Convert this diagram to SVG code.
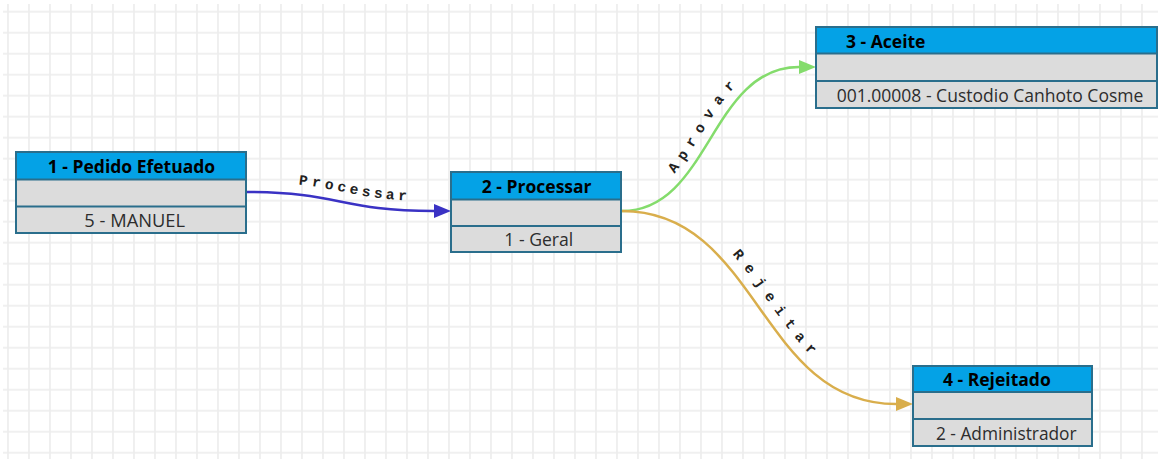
<svg xmlns="http://www.w3.org/2000/svg" width="1158" height="459" viewBox="0 0 1158 459">
<defs>
<pattern id="grid" x="7" y="10.7" width="21" height="21" patternUnits="userSpaceOnUse">
<path d="M1 0V21M0 1H21" stroke="#ececec" stroke-width="1.6" fill="none"/>
</pattern>
<marker id="arrBlue" markerUnits="userSpaceOnUse" markerWidth="18" markerHeight="14" refX="0" refY="7" orient="auto"><path d="M0 0L17 7L0 14z" fill="#3a32c4"/></marker>
<marker id="arrGreen" markerUnits="userSpaceOnUse" markerWidth="18" markerHeight="14" refX="0" refY="7" orient="auto"><path d="M0 0L17 7L0 14z" fill="#84dc6c"/></marker>
<marker id="arrGold" markerUnits="userSpaceOnUse" markerWidth="18" markerHeight="14" refX="0" refY="7" orient="auto"><path d="M0 0L17 7L0 14z" fill="#d9ae4c"/></marker>
<style>
.body{fill:#dcdcdc;stroke:#2a6e8c;stroke-width:2}
.head{fill:#04a2e6;stroke:#2a6e8c;stroke-width:2}
.sep{stroke:#2a6e8c;stroke-width:2}
.ht{font-family:"Open Sans","DejaVu Sans",sans-serif;font-weight:bold;font-size:17.5px;fill:#000}
.bt{font-family:"Open Sans","DejaVu Sans",sans-serif;font-size:17.5px;fill:#2d2d2d}
.conn{fill:none;stroke-width:2.5}
.lbl{font-family:"Liberation Mono","Courier New",monospace;font-weight:bold;font-size:14.5px;fill:#222}
</style>
</defs>
<rect x="0" y="0" width="1158" height="459" fill="#ffffff"/>
<rect x="3" y="4" width="1155" height="455" fill="url(#grid)"/>

<g id="connectors">
<path id="c1" class="conn" stroke="#3a32c4" d="M247 192C340 192 340 211 434 211" marker-end="url(#arrBlue)"/>
<path id="c2" class="conn" stroke="#84dc6c" d="M622 211C710 211 710 67 799 67" marker-end="url(#arrGreen)"/>
<path id="c3" class="conn" stroke="#d9ae4c" d="M622 211C759 211 759 404 896 404" marker-end="url(#arrGold)"/>
<text class="lbl" letter-spacing="4" dy="-10"><textPath href="#c1" startOffset="57%" text-anchor="middle">Processar</textPath></text>
<text class="lbl" letter-spacing="7.5" dy="-10"><textPath href="#c2" startOffset="53%" text-anchor="middle">Aprovar</textPath></text>
<text class="lbl" letter-spacing="8.5" dy="-11"><textPath href="#c3" startOffset="53%" text-anchor="middle">Rejeitar</textPath></text>
</g>

<g id="node1">
<rect class="body" x="16" y="152" width="230" height="81"/>
<rect class="head" x="16" y="152" width="230" height="27.5"/>
<line class="sep" x1="16" y1="206.5" x2="246" y2="206.5"/>
<text class="ht" x="131.5" y="173.3" text-anchor="middle">1 - Pedido Efetuado</text>
<text class="bt" x="134.7" y="227.3" text-anchor="middle" textLength="100.7" lengthAdjust="spacingAndGlyphs">5 - MANUEL</text>
</g>

<g id="node2">
<rect class="body" x="451" y="172" width="170" height="80"/>
<rect class="head" x="451" y="172" width="170" height="27.5"/>
<line class="sep" x1="451" y1="226" x2="621" y2="226"/>
<text class="ht" x="536.7" y="193.3" text-anchor="middle">2 - Processar</text>
<text class="bt" x="538.8" y="246" text-anchor="middle" textLength="69" lengthAdjust="spacingAndGlyphs">1 - Geral</text>
</g>

<g id="node3">
<rect class="body" x="816" y="27" width="341" height="81"/>
<rect class="head" x="816" y="27" width="341" height="26.5"/>
<line class="sep" x1="816" y1="81" x2="1157" y2="81"/>
<text class="ht" x="846" y="48.3">3 - Aceite</text>
<text class="bt" x="990" y="101.7" text-anchor="middle" textLength="306.7" lengthAdjust="spacingAndGlyphs">001.00008 - Custodio Canhoto Cosme</text>
</g>

<g id="node4">
<rect class="body" x="913" y="366" width="179" height="80"/>
<rect class="head" x="913" y="366" width="179" height="26"/>
<line class="sep" x1="913" y1="419" x2="1092" y2="419"/>
<text class="ht" x="943" y="385.7">4 - Rejeitado</text>
<text class="bt" x="1006.3" y="440" text-anchor="middle" textLength="140.7" lengthAdjust="spacingAndGlyphs">2 - Administrador</text>
</g>
</svg>
